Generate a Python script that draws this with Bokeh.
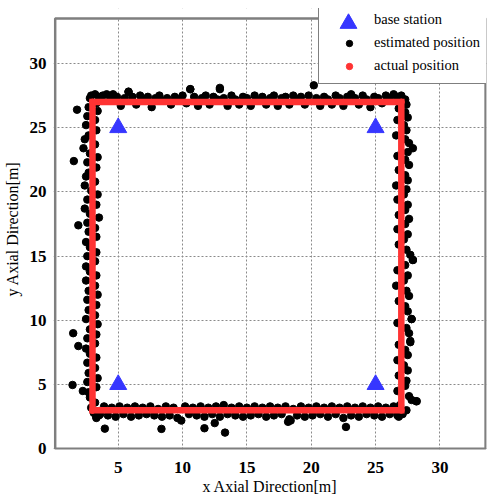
from bokeh.plotting import figure
from bokeh.models import Legend, LegendItem, FixedTicker, Range1d, BoxAnnotation
from bokeh.embed import file_html
from bokeh.resources import INLINE

# ---- data ----
x_ticks = [5, 10, 15, 20, 25, 30]
y_ticks = [0, 5, 10, 15, 20, 25, 30]

base_x = [5, 5, 25, 25]
base_y = [5, 25, 25, 5]

actual_x = [3, 3, 27, 27, 3]
actual_y = [3, 27, 27, 3, 3]

est_top_x = [2.9, 3.2, 3.5, 3.8, 4.1, 4.4, 4.6, 4.9, 5.2, 5.5, 5.8, 6.1, 6.4, 6.7, 7.0, 7.3, 7.6, 7.9, 8.2, 8.5,
             8.8, 9.1, 9.4, 9.7, 10.0, 10.3, 10.6, 10.9, 11.2, 11.5, 11.8, 12.1, 12.4, 12.7, 12.9, 13.2, 13.5, 13.8,
             14.1, 14.4, 14.7, 15.0, 15.3, 15.6, 15.9, 16.2, 16.5, 16.8, 17.1, 17.4, 17.7, 18.0, 18.3, 18.6, 18.9,
             19.2, 19.5, 19.8, 20.2, 20.4, 20.7, 21.0, 21.3, 21.6, 21.9, 22.2, 22.5, 22.8, 23.1, 23.4, 23.7, 24.0,
             24.3, 24.6, 24.9, 25.2, 25.5, 25.8, 26.1, 26.4, 26.7, 27.0, 27.3]
est_top_y = [27.5, 27.6, 27.4, 27.5, 27.6, 27.3, 27.6, 27.4, 26.7, 27.3, 27.8, 27.4, 26.8, 27.5, 27.2, 27.4, 26.6,
             27.3, 27.5, 27.1, 27.3, 26.8, 27.4, 27.2, 27.5, 26.9, 28.0, 27.4, 26.7, 27.3, 27.5, 26.8, 27.4, 27.2,
             28.1, 27.3, 26.7, 27.5, 27.2, 26.8, 27.4, 27.3, 26.7, 27.5, 27.1, 27.4, 26.8, 27.3, 27.5, 26.7, 27.3,
             27.4, 26.8, 27.5, 27.2, 27.4, 26.8, 27.5, 28.3, 27.3, 26.7, 27.4, 27.2, 26.8, 27.5, 27.3, 26.7, 27.4,
             27.6, 27.3, 26.8, 27.5, 27.2, 26.6, 27.4, 27.3, 26.9, 27.5, 27.3, 27.6, 27.4, 27.5, 27.2]

est_right_x = [27.4, 26.8, 27.3, 27.5, 26.7, 27.2, 27.4, 26.6, 27.3, 27.6, 27.9, 27.5, 26.7, 27.3, 27.6, 26.8, 27.3,
               27.5, 26.6, 27.4, 27.2, 26.7, 27.5, 27.3, 26.8, 27.6, 27.3, 26.7, 27.5, 27.2, 26.8, 27.4, 27.7, 27.9,
               27.3, 26.7, 27.5, 27.2, 26.6, 27.4, 27.6, 26.8, 27.3, 27.5, 27.8, 26.7, 27.4, 27.6, 27.7, 26.8, 27.3,
               27.5, 26.7, 27.2, 27.5, 26.8, 27.4, 27.3, 26.7, 27.6, 27.8, 28.2, 26.9, 27.4, 27.1, 26.8]
est_right_y = [26.8, 26.5, 26.2, 25.8, 25.6, 25.2, 24.8, 24.4, 24.1, 23.8, 23.4, 23.1, 22.8, 22.5, 22.1, 21.7, 21.3,
               20.9, 20.5, 20.2, 19.8, 19.4, 19.0, 18.6, 18.2, 17.9, 17.5, 17.1, 16.7, 16.3, 15.9, 15.5, 15.1, 14.7,
               14.3, 13.9, 13.5, 13.1, 12.7, 12.3, 11.9, 11.5, 11.1, 10.7, 10.1, 9.8, 9.4, 9.0, 8.4, 8.1, 7.7, 7.3,
               6.9, 6.5, 6.1, 5.7, 5.3, 4.9, 4.5, 4.1, 3.8, 3.7, 3.4, 3.0, 2.7, 2.5]

est_bottom_x = [3.3, 3.6, 3.9, 4.2, 4.5, 4.8, 5.1, 5.4, 5.7, 6.0, 6.3, 6.6, 6.9, 7.2, 7.5, 7.8, 8.1, 8.4, 8.7, 9.0,
                9.3, 9.6, 9.9, 10.2, 10.5, 10.8, 11.1, 11.4, 11.7, 12.0, 12.3, 12.6, 12.9, 13.2, 13.5, 13.8, 14.1,
                14.4, 14.7, 15.0, 15.3, 15.6, 15.9, 16.2, 16.5, 16.8, 17.1, 17.4, 17.7, 18.0, 18.3, 18.6, 18.9,
                19.2, 19.5, 19.8, 20.1, 20.4, 20.7, 21.0, 21.3, 21.6, 21.9, 22.2, 22.5, 22.8, 23.1, 23.4, 23.7,
                24.0, 24.3, 24.6, 24.9, 25.2, 25.5, 25.8, 26.1, 26.4, 26.7]
est_bottom_y = [2.5, 2.7, 3.3, 2.6, 3.2, 2.5, 3.3, 2.7, 3.2, 2.5, 3.3, 2.6, 3.2, 2.7, 3.3, 2.6, 3.1, 2.5, 3.3, 2.6,
                3.2, 2.4, 2.2, 3.3, 2.7, 3.2, 2.6, 3.3, 2.5, 3.2, 2.7, 3.3, 2.5, 3.4, 2.7, 3.2, 2.6, 3.3, 2.5,
                3.2, 2.6, 3.3, 2.7, 3.2, 2.5, 3.3, 2.6, 3.2, 2.7, 3.3, 2.3, 3.1, 2.6, 3.3, 2.5, 3.2, 2.6, 3.3,
                2.7, 3.2, 2.5, 3.3, 2.7, 3.2, 2.4, 3.3, 2.6, 3.2, 2.5, 3.3, 2.7, 3.2, 2.6, 3.3, 2.5, 3.2, 2.7,
                3.3, 2.6]

est_left_x = [2.8, 3.3, 2.7, 3.4, 2.6, 3.2, 2.5, 3.3, 2.7, 2.4, 3.2, 2.3, 2.8, 3.4, 2.6, 3.3, 2.7, 2.5, 3.2, 2.4,
              2.9, 3.4, 2.6, 3.3, 2.4, 2.8, 3.5, 2.6, 3.2, 2.7, 3.3, 2.5, 2.8, 3.3, 2.6, 3.2, 2.5, 2.8, 3.3, 2.5,
              3.2, 2.7, 3.4, 2.6, 3.3, 2.7, 3.2, 2.5, 3.4, 2.8, 3.3, 2.6, 3.2, 2.5, 2.8, 3.3, 2.6, 3.2, 2.7, 3.4,
              2.6, 3.3, 2.7, 2.8, 3.2, 2.9, 3.1, 3.3, 3.5]
est_left_y = [27.3, 26.9, 26.6, 26.3, 25.9, 25.6, 25.2, 24.8, 24.4, 24.1, 23.7, 23.4, 23.0, 22.7, 22.3, 21.9, 21.5,
              21.2, 20.8, 20.5, 20.1, 19.8, 19.4, 19.0, 18.7, 18.3, 18.0, 17.6, 17.2, 16.9, 16.5, 16.1, 15.7,
              15.3, 15.0, 14.6, 14.2, 13.8, 13.5, 13.1, 12.7, 12.3, 12.0, 11.6, 11.2, 10.8, 10.4, 10.1, 9.7,
              9.3, 8.9, 8.6, 8.2, 7.8, 7.4, 7.1, 6.7, 6.3, 5.9, 5.5, 5.2, 4.8, 4.4, 4.0, 3.6, 3.2, 2.8, 2.4, 2.6]

est_outlier_x = [1.55, 1.8, 1.9, 1.5, 1.9, 1.45, 2.25, 3.96, 8.36, 11.7, 12.5, 13.3, 22.7, 18.2, 18.4, 28.15,
                 27.9, 27.8, 27.7, 10.6, 12.9, 5.8]
est_outlier_y = [22.4, 26.4, 17.4, 9.0, 8.0, 4.97, 4.5, 1.57, 1.55, 1.6, 2.0, 1.26, 1.7, 2.1, 2.2, 3.7,
                 14.7, 10.1, 8.3, 28.0, 28.0, 27.8]

est_x = est_top_x + est_right_x + est_bottom_x + est_left_x + est_outlier_x
est_y = est_top_y + est_right_y + est_bottom_y + est_left_y + est_outlier_y

# visible axes box and the drawing area (slightly larger, extra room above for the legend)
box_x = (0.1, 33.55)
box_y = (0.0, 33.5)
area_x = (-0.03, 33.62)
area_y = (-0.055, 34.28)

RED = "#ff3333"
BLUE = "#3636ff"
GRAY = "#7f7f7f"
FONT = "Liberation Serif"

p = figure(width=488, height=497, output_backend="svg", toolbar_location=None,
           x_range=Range1d(*area_x), y_range=Range1d(*area_y),
           min_border_left=52, min_border_right=2, min_border_top=8, min_border_bottom=45)

p.background_fill_color = "white"
p.border_fill_color = "white"
p.outline_line_color = None

p.xaxis.ticker = FixedTicker(ticks=x_ticks)
p.yaxis.ticker = FixedTicker(ticks=y_ticks)
p.xgrid.ticker = FixedTicker(ticks=x_ticks)
p.ygrid.ticker = FixedTicker(ticks=y_ticks)
for g in (p.xgrid, p.ygrid):
    g.grid_line_color = "#8a8a8a"
    g.grid_line_dash = "2 2"
    g.grid_line_width = 1

for ax in (p.xaxis, p.yaxis):
    ax.axis_line_color = None
    ax.major_tick_line_color = None
    ax.minor_tick_line_color = None
    ax.major_label_text_font = FONT
    ax.major_label_text_font_size = "17px"
    ax.major_label_text_font_style = "bold"
    ax.major_label_text_color = "black"
    ax.axis_label_text_font = FONT
    ax.axis_label_text_font_size = "16px"
    ax.axis_label_text_font_style = "normal"
    ax.axis_label_text_color = "black"
p.xaxis.major_label_standoff = 6
p.yaxis.major_label_standoff = 1
p.xaxis.axis_label_standoff = 2
p.yaxis.axis_label_standoff = 6

p.xaxis.axis_label = "x Axial Direction[m]"
p.yaxis.axis_label = "y Axial Direction[m]"

est_r = p.scatter(est_x, est_y, size=7.5, color="black")
act_dot = p.scatter(actual_x, actual_y, size=6, color=RED)
p.line(actual_x, actual_y, line_width=6.5, color=RED, line_join="miter", line_cap="square")
base_r = p.scatter(base_x, base_y, marker="triangle", size=17, color=BLUE)

# white strip above the axes box (room for the legend), then the gray axes box
top_cover = BoxAnnotation(left=area_x[0], right=area_x[1], bottom=box_y[1], top=area_y[1],
                          fill_color="white", fill_alpha=1.0, line_color=None)
p.add_layout(top_cover)
frame_box = BoxAnnotation(left=box_x[0], right=box_x[1], bottom=box_y[0], top=box_y[1],
                          fill_alpha=0.0, line_color=GRAY, line_width=2.5, line_alpha=1.0)
p.add_layout(frame_box)

leg = Legend(items=[LegendItem(label="base station", renderers=[base_r]),
                    LegendItem(label="estimated position", renderers=[est_r]),
                    LegendItem(label="actual position", renderers=[act_dot])],
             location=(265, 365), padding=9, spacing=6, margin=0,
             glyph_height=16, glyph_width=42, label_height=16, label_width=130, label_standoff=4,
             border_line_color="black", border_line_width=1, background_fill_color="white",
             background_fill_alpha=1.0, label_text_font=FONT, label_text_font_size="14.5px",
             label_text_color="black")
p.add_layout(leg)

leg_tri = Legend(items=[LegendItem(label=" ", renderers=[base_r])],
                 location=(274, 405), padding=0, spacing=0, margin=0,
                 glyph_height=42, glyph_width=42, label_height=42, label_width=0, label_standoff=0,
                 border_line_color=None, background_fill_alpha=0.0,
                 label_text_font=FONT, label_text_font_size="14px")
p.add_layout(leg_tri)

open("out.html", "w").write(file_html(p, INLINE))
